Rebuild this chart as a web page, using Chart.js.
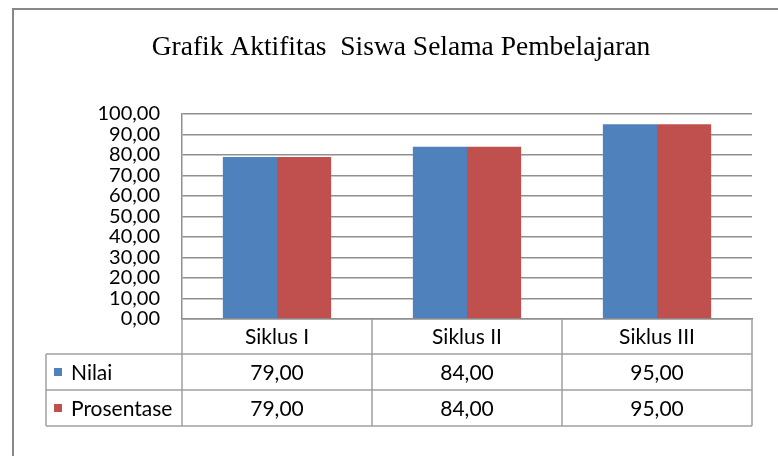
<!DOCTYPE html>
<html>
<head>
<meta charset="utf-8">
<script src="https://cdn.jsdelivr.net/npm/chart.js@4/dist/chart.umd.min.js"></script>
<style>
html,body{margin:0;padding:0;background:#fff;}
#wrap{width:778px;height:456px;position:relative;}
</style>
</head>
<body>
<div id="wrap"><canvas id="c" width="778" height="456"></canvas></div>
<script>
const titleText = 'Grafik Aktifitas  Siswa Selama Pembelajaran';
const categories = ['Siklus I', 'Siklus II', 'Siklus III'];
const seriesNames = ['Nilai', 'Prosentase'];
const nilai = [79, 84, 95];
const prosentase = [79, 84, 95];
const yTickLabels = ['0,00','10,00','20,00','30,00','40,00','50,00','60,00','70,00','80,00','90,00','100,00'];
const colors = ['#4F81BD', '#C0504D'];

const FONT = 'Lato';
const GRID = '#8f8f8f';
const TABLE = '#a0a0a0';

function fmt(v){ return v.toFixed(2).replace('.', ','); }

const frame = {
  id: 'frame',
  beforeDraw(chart){
    const ctx = chart.ctx;
    ctx.save();
    ctx.fillStyle = '#fff';
    ctx.fillRect(0,0,chart.width,chart.height);
    ctx.strokeStyle = '#888';
    ctx.lineWidth = 2;
    ctx.strokeRect(13, 9, 900, 600);
    ctx.restore();
  }
};

const dataTable = {
  id: 'dataTable',
  afterDraw(chart){
    const ctx = chart.ctx;
    const x = chart.scales.x;
    const ca = chart.chartArea;
    const half = (x.getPixelForValue(1) - x.getPixelForValue(0)) / 2;
    const edges = [];
    for (let i = 0; i < categories.length; i++) edges.push(x.getPixelForValue(i) - half);
    edges.push(x.getPixelForValue(categories.length - 1) + half);
    const top = ca.bottom;
    const r1 = top + 35, r2 = r1 + 36, r3 = r2 + 36;
    const left = 46;
    ctx.save();
    ctx.strokeStyle = TABLE;
    ctx.lineWidth = 1.5;
    ctx.beginPath();
    edges.forEach(e => { ctx.moveTo(e, top); ctx.lineTo(e, r3); });
    [r1, r2, r3].forEach(r => { ctx.moveTo(left, r); ctx.lineTo(edges[edges.length-1], r); });
    ctx.moveTo(left, r1); ctx.lineTo(left, r3);
    ctx.stroke();

    const rows = [nilai, prosentase];
    const ys = [(r1 + r2) / 2, (r2 + r3) / 2];
    ctx.font = '21px ' + FONT;
    ctx.textBaseline = 'middle';
    rows.forEach((vals, ri) => {
      ctx.fillStyle = colors[ri];
      ctx.fillRect(54, ys[ri] - 4, 8, 8);
      ctx.fillStyle = '#000';
      ctx.textAlign = 'left';
      ctx.fillText(seriesNames[ri], 71, ys[ri] + 1);
      ctx.textAlign = 'center';
      vals.forEach((v, ci) => {
        ctx.fillText(fmt(v), x.getPixelForValue(ci), ys[ri] + 1);
      });
    });
    ctx.restore();
  }
};

new Chart(document.getElementById('c'), {
  type: 'bar',
  data: {
    labels: categories,
    datasets: [
      { label: seriesNames[0], data: nilai, backgroundColor: colors[0], borderWidth: 0 },
      { label: seriesNames[1], data: prosentase, backgroundColor: colors[1], borderWidth: 0 }
    ]
  },
  options: {
    responsive: false,
    animation: false,
    devicePixelRatio: 1,
    layout: { padding: { left: 50, right: 26, top: 0, bottom: 0 } },
    datasets: { bar: { barPercentage: 1.0, categoryPercentage: 0.57 } },
    plugins: {
      legend: { display: false },
      tooltip: { enabled: false },
      title: {
        display: true,
        text: titleText,
        color: '#000',
        font: { family: 'Liberation Serif', size: 27.5, weight: 'normal' },
        padding: { top: 31, bottom: 50 }
      }
    },
    scales: {
      x: {
        grid: { display: false, drawTicks: false },
        border: { display: true, color: GRID, width: 1.5 },
        ticks: { color: '#000', font: { family: FONT, size: 21 }, padding: 6 },
        afterFit(s){ s.height = 137; }
      },
      y: {
        min: 0, max: 100,
        grid: { color: GRID, lineWidth: 1.5, drawTicks: false },
        border: { display: true, color: GRID, width: 1.5 },
        ticks: {
          stepSize: 10,
          autoSkip: false,
          color: '#000',
          font: { family: FONT, size: 20, lineHeight: 1 },
          padding: 22,
          callback: (v, i) => yTickLabels[i]
        },
        afterFit(s){ s.width = 132; }
      }
    }
  },
  plugins: [frame, dataTable]
});
</script>
</body>
</html>
